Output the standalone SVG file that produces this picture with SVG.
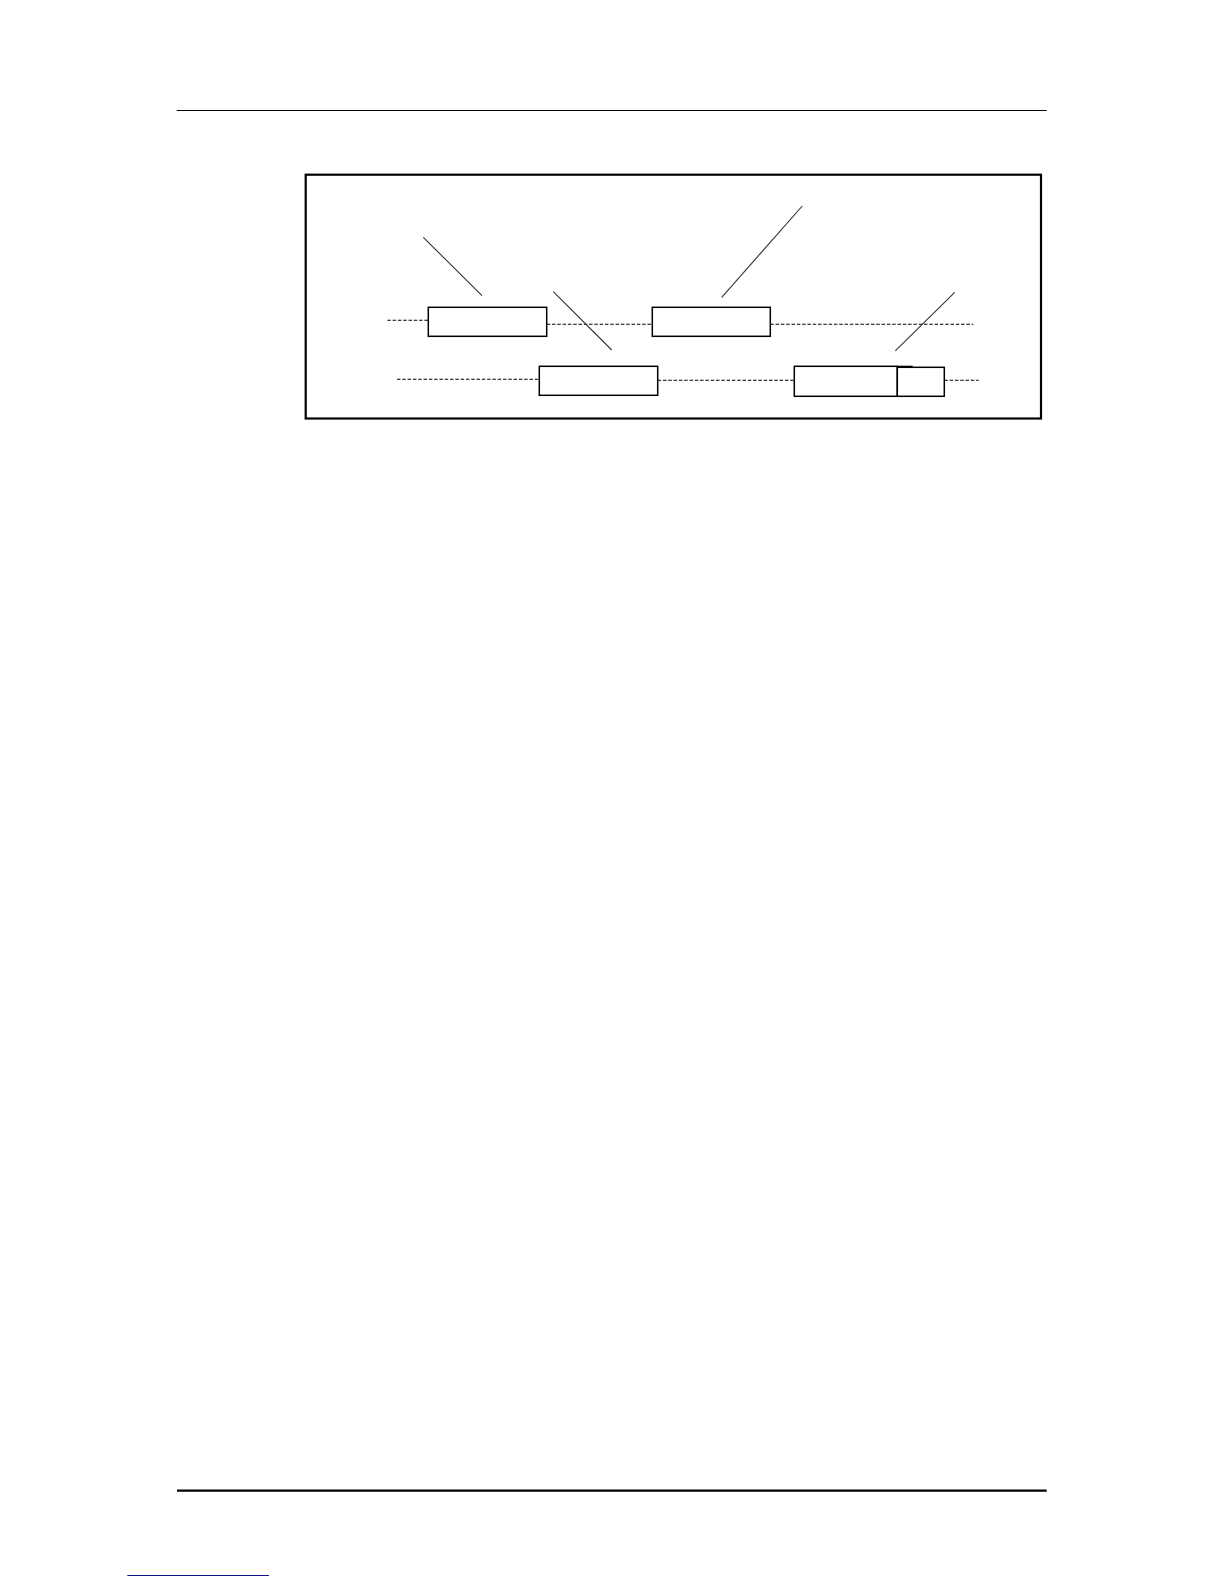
<svg xmlns="http://www.w3.org/2000/svg" width="1224" height="1584" viewBox="0 0 1224 1584">
  <style>
    .rule { stroke: #000; fill: none; }
    .frame { stroke: #000; stroke-width: 2.2; fill: none; }
    .box { stroke: #000; stroke-width: 1.5; fill: #fff; }
    .dash { stroke: #000; stroke-width: 1.1; stroke-dasharray: 3.5 1.8; fill: none; }
    .leader { stroke: #333; stroke-width: 1.1; fill: none; }
  </style>
  <rect width="1224" height="1584" fill="#fff"/>
  <g id="page-rules">
    <line class="rule" x1="176.7" y1="110.5" x2="1046.7" y2="110.5" stroke-width="1.2"/>
    <line class="rule" x1="177" y1="1490.7" x2="1046.7" y2="1490.7" stroke-width="2.2"/>
    <line x1="127.3" y1="1575.5" x2="269" y2="1575.5" stroke="#10108c" stroke-width="1.1"/>
  </g>
  <g id="frame">
    <rect class="frame" x="305.7" y="174.7" width="735.3" height="243.8"/>
  </g>
  <g id="connectors">
    <line class="dash" x1="387.3" y1="320.3" x2="428.3" y2="320.3"/>
    <line class="dash" x1="546.7" y1="324.3" x2="652.3" y2="324.3"/>
    <line class="dash" x1="770.3" y1="324.3" x2="973.3" y2="324.3"/>
    <line class="dash" x1="397" y1="379.3" x2="543.3" y2="379.3"/>
    <line class="dash" x1="657.7" y1="380.3" x2="794.3" y2="380.3"/>
    <line class="dash" x1="944.3" y1="380.3" x2="978.7" y2="380.3"/>
    <line class="leader" x1="423.3" y1="237.3" x2="482" y2="295.7"/>
    <line class="leader" x1="553.3" y1="291.7" x2="611.7" y2="350"/>
    <line class="leader" x1="721.7" y1="297.3" x2="802.3" y2="206"/>
    <line class="leader" x1="895.3" y1="350.8" x2="954.7" y2="292.3"/>
  </g>
  <g id="node-a">
    <rect class="box" x="428.3" y="307.3" width="118.4" height="29"/>
  </g>
  <g id="node-b">
    <rect class="box" x="652.3" y="307.3" width="118" height="29"/>
  </g>
  <g id="node-c">
    <rect class="box" x="539.3" y="366.3" width="118.4" height="29"/>
  </g>
  <g id="node-d">
    <rect class="box" x="794.3" y="366.3" width="103" height="30"/>
  </g>
  <g id="node-e">
    <rect class="box" x="897.3" y="367.3" width="47" height="29"/>
    <line x1="897.3" y1="366.5" x2="912.7" y2="366.5" stroke="#000" stroke-width="1.6"/>
  </g>
</svg>
